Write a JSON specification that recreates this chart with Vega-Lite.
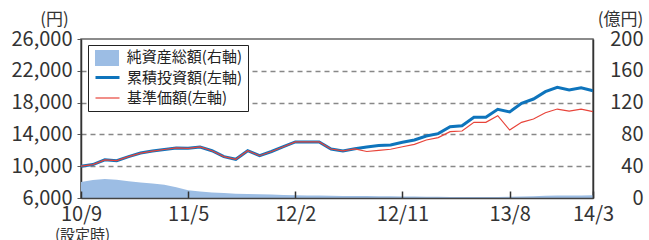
{
  "$schema": "https://vega.github.io/schema/vega-lite/v6.json",
  "width": 512,
  "height": 159,
  "autosize": "none",
  "padding": {"left": 81, "top": 39, "right": 56, "bottom": 42},
  "config": {
    "font": "Noto Sans CJK JP",
    "view": {"stroke": "#666", "strokeWidth": 1.5}
  },
  "data": {
    "values": [
      {"i": 0, "cum": 10000, "nav": 10000, "net": 20},
      {"i": 1, "cum": 10200, "nav": 10200, "net": 22.6},
      {"i": 2, "cum": 10800, "nav": 10800, "net": 24},
      {"i": 3, "cum": 10700, "nav": 10700, "net": 22.8},
      {"i": 4, "cum": 11200, "nav": 11200, "net": 21},
      {"i": 5, "cum": 11650, "nav": 11650, "net": 19.5},
      {"i": 6, "cum": 11900, "nav": 11900, "net": 18.3},
      {"i": 7, "cum": 12100, "nav": 12100, "net": 16.6},
      {"i": 8, "cum": 12300, "nav": 12300, "net": 13.5},
      {"i": 9, "cum": 12250, "nav": 12250, "net": 9.6},
      {"i": 10, "cum": 12420, "nav": 12420, "net": 8.2},
      {"i": 11, "cum": 11950, "nav": 11950, "net": 7},
      {"i": 12, "cum": 11200, "nav": 11200, "net": 6.3},
      {"i": 13, "cum": 10870, "nav": 10870, "net": 5.4},
      {"i": 14, "cum": 11950, "nav": 11950, "net": 5},
      {"i": 15, "cum": 11320, "nav": 11320, "net": 4.7},
      {"i": 16, "cum": 11850, "nav": 11850, "net": 4.4},
      {"i": 17, "cum": 12450, "nav": 12450, "net": 3.9},
      {"i": 18, "cum": 13050, "nav": 13050, "net": 3.4},
      {"i": 19, "cum": 13050, "nav": 13050, "net": 3.2},
      {"i": 20, "cum": 13050, "nav": 13050, "net": 3.0},
      {"i": 21, "cum": 12160, "nav": 12160, "net": 2.8},
      {"i": 22, "cum": 11920, "nav": 11920, "net": 2.6},
      {"i": 23, "cum": 12200, "nav": 12180, "net": 2.5},
      {"i": 24, "cum": 12420, "nav": 11850, "net": 2.4},
      {"i": 25, "cum": 12600, "nav": 12000, "net": 2.3},
      {"i": 26, "cum": 12680, "nav": 12130, "net": 2.2},
      {"i": 27, "cum": 13010, "nav": 12450, "net": 2.0},
      {"i": 28, "cum": 13300, "nav": 12750, "net": 1.8},
      {"i": 29, "cum": 13800, "nav": 13300, "net": 1.6},
      {"i": 30, "cum": 14100, "nav": 13600, "net": 1.5},
      {"i": 31, "cum": 14970, "nav": 14340, "net": 1.4},
      {"i": 32, "cum": 15090, "nav": 14430, "net": 1.3},
      {"i": 33, "cum": 16150, "nav": 15520, "net": 1.3},
      {"i": 34, "cum": 16150, "nav": 15520, "net": 1.3},
      {"i": 35, "cum": 17160, "nav": 16350, "net": 1.4},
      {"i": 36, "cum": 16820, "nav": 14550, "net": 1.6},
      {"i": 37, "cum": 17910, "nav": 15520, "net": 1.9},
      {"i": 38, "cum": 18450, "nav": 15940, "net": 2.3},
      {"i": 39, "cum": 19370, "nav": 16730, "net": 2.7},
      {"i": 40, "cum": 19920, "nav": 17190, "net": 3.0},
      {"i": 41, "cum": 19580, "nav": 16940, "net": 3.2},
      {"i": 42, "cum": 19870, "nav": 17190, "net": 3.3},
      {"i": 43, "cum": 19500, "nav": 16860, "net": 3.4}
    ]
  },
  "layer": [
    {
      "mark": {"type": "area", "opacity": 1},
      "encoding": {
        "x": {
          "field": "i",
          "type": "quantitative",
          "scale": {"domain": [0, 43], "nice": false, "zero": false},
          "axis": {
            "values": [0, 9, 18, 27, 36, 43],
            "tickCount": 10,
            "labelExpr": "datum.value==0?'10/9':datum.value==9?'11/5':datum.value==18?'12/2':datum.value==27?'12/11':datum.value==36?'13/8':'14/3'",
            "labelFontSize": 20,
            "labelColor": "#333",
            "labelFlush": false,
            "labelOverlap": false,
            "labelPadding": 13,
            "tickSize": -7,
            "tickColor": "#333",
            "tickWidth": 1.5,
            "domainColor": "#444",
            "domainWidth": 1.5,
            "grid": false,
            "title": "(設定時)",
            "titleFontSize": 15,
            "titleFontWeight": "normal",
            "titleColor": "#333",
            "titleX": 1,
            "titleY": 36,
            "titleAlign": "center",
            "titleBaseline": "middle",
            "zindex": 1
          }
        },
        "y": {
          "field": "net",
          "type": "quantitative",
          "scale": {"domain": [0, 200], "nice": false},
          "axis": {
            "orient": "right",
            "values": [0, 40, 80, 120, 160, 200],
            "tickCount": 10,
            "labelFontSize": 20,
            "labelColor": "#333",
            "labelAlign": "right",
            "labelPadding": 50,
            "labelOverlap": false,
            "labelFlush": false,
            "ticks": false,
            "domainColor": "#333",
            "domainWidth": 1.5,
            "grid": false,
            "title": "(億円)",
            "titleAngle": 0,
            "titleX": 27,
            "titleY": -20,
            "titleAlign": "center",
            "titleBaseline": "middle",
            "titleFontSize": 17,
            "titleFontWeight": "normal",
            "titleColor": "#333",
            "zindex": 1
          }
        },
        "color": {
          "datum": "純資産総額(右軸)",
          "scale": {"domain": ["純資産総額(右軸)"], "range": ["#9cbde4"]},
          "legend": {
            "orient": "none",
            "legendX": 17,
            "legendY": 10,
            "title": null,
            "padding": 0,
            "symbolType": "M-1.5,-1H1.5V1H-1.5Z",
            "symbolSize": 256,
            "symbolOffset": 0,
            "symbolOpacity": 1,
            "labelExpr": "''",
            "labelOffset": 0,
            "labelFontSize": 15,
            "zindex": 2
          }
        }
      }
    },
    {
      "layer": [
        {
          "mark": {"type": "line"},
          "encoding": {
            "x": {"field": "i", "type": "quantitative"},
            "y": {
              "field": "cum",
              "type": "quantitative",
              "scale": {"domain": [6000, 26000], "nice": false, "zero": false},
              "axis": {
                "orient": "left",
                "values": [6000, 10000, 14000, 18000, 22000, 26000],
                "tickCount": 10,
                "format": ",d",
                "labelFontSize": 20,
                "labelColor": "#333",
                "labelPadding": 5,
                "labelOverlap": false,
                "labelFlush": false,
                "tickSize": 4,
                "tickColor": "#555",
                "domainColor": "#333",
                "domainWidth": 1.5,
                "grid": true,
                "gridColor": "#888",
                "gridDash": [5, 4],
                "gridWidth": 1.5,
                "gridOpacity": {"condition": {"test": "datum.value == 6000 || datum.value == 26000", "value": 0}, "value": 1},
                "title": "(円)",
                "titleAngle": 0,
                "titleX": -27,
                "titleY": -20,
                "titleAlign": "center",
                "titleBaseline": "middle",
                "titleFontSize": 17,
                "titleFontWeight": "normal",
                "titleColor": "#333"
              }
            },
            "stroke": {
              "datum": "累積投資額(左軸)",
              "scale": {"domain": ["累積投資額(左軸)", "基準価額(左軸)"], "range": ["#0e74bc", "#e8443a"]},
              "legend": {
                "orient": "none",
                "legendX": 7,
                "legendY": 6,
                "direction": "vertical",
                "title": "純資産総額(右軸)",
                "titleAnchor": "end",
                "titleAlign": "right",
                "titleFontSize": 15,
                "titleFontWeight": "normal",
                "titleColor": "#222",
                "titlePadding": 3,
                "titleLimit": 300,
                "fillColor": "white",
                "strokeColor": "#222",
                "padding": 5,
                "symbolType": "M-1.5,0H1.5",
                "symbolSize": 256,
                "symbolOffset": 5,
                "labelOffset": 10,
                "rowPadding": 3,
                "labelFontSize": 15,
                "labelColor": "#222",
                "labelLimit": 300,
                "zindex": 0
              }
            },
            "strokeWidth": {
              "datum": "累積投資額(左軸)",
              "scale": {"domain": ["累積投資額(左軸)", "基準価額(左軸)"], "range": [3, 1.2]},
              "legend": {
                "orient": "none",
                "legendX": 7,
                "legendY": 6,
                "direction": "vertical",
                "title": "純資産総額(右軸)",
                "titleAnchor": "end",
                "titleAlign": "right",
                "titleFontSize": 15,
                "titleFontWeight": "normal",
                "titleColor": "#222",
                "titlePadding": 3,
                "titleLimit": 300,
                "fillColor": "white",
                "strokeColor": "#222",
                "padding": 5,
                "symbolType": "M-1.5,0H1.5",
                "symbolSize": 256,
                "symbolOffset": 5,
                "labelOffset": 10,
                "rowPadding": 3,
                "labelFontSize": 15,
                "labelColor": "#222",
                "labelLimit": 300,
                "zindex": 0
              }
            }
          }
        },
        {
          "mark": {"type": "line"},
          "encoding": {
            "x": {"field": "i", "type": "quantitative"},
            "y": {"field": "nav", "type": "quantitative"},
            "stroke": {"datum": "基準価額(左軸)"},
            "strokeWidth": {"datum": "基準価額(左軸)"}
          }
        }
      ]
    }
  ],
  "resolve": {"scale": {"y": "independent"}}
}
